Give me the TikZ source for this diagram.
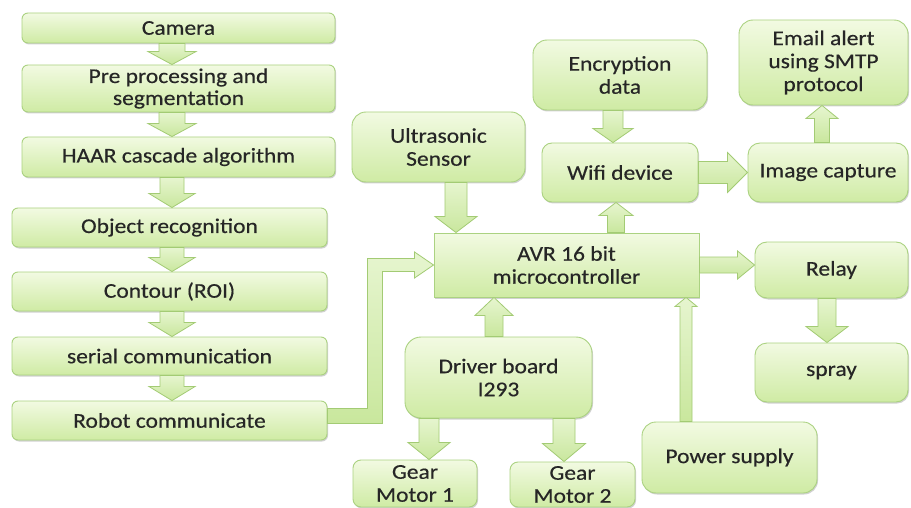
\documentclass[tikz,border=0pt]{standalone}
\usepackage{fontspec}
\setmainfont{Carlito}[FakeStretch=1.12, FakeBold=0.4]
\usetikzlibrary{calc,shadows}

\definecolor{boxtop}{HTML}{F2FAE2}
\definecolor{boxbot}{HTML}{CFEBA4}
\definecolor{boxline}{HTML}{ABD281}
\definecolor{arrtop}{HTML}{E6F5CF}
\definecolor{arrbot}{HTML}{C9E79D}
\definecolor{arrline}{HTML}{A3CB74}
\definecolor{txt}{HTML}{262626}

\tikzset{
  blk/.style={draw=boxline, line width=0.9pt, top color=boxtop, bottom color=boxbot,
    rounded corners=#1, text=txt, align=center, inner sep=2pt,
    font=\fontsize{21}{23}\selectfont,
    drop shadow={shadow xshift=1pt, shadow yshift=-1.5pt, opacity=.18, fill=black}},
  blk/.default=7pt,
  barrow/.style={draw=arrline, line width=0.8pt, top color=arrtop, bottom color=arrbot,
    line join=miter}
}

% block arrow: start, end, shaft width, head width, head length (pt)
\newcommand\blockarrow[5]{%
  \path[barrow] let \p1=(#1), \p2=(#2),
      \n1={atan2(\y2-\y1,\x2-\x1)}, \n2={veclen(\x2-\x1,\y2-\y1)} in
    {[shift={(\p1)}, rotate=\n1]
      (0pt,{-#3pt/2}) -- ({\n2-#5pt},{-#3pt/2}) -- ({\n2-#5pt},{-#4pt/2})
      -- (\n2,0pt) -- ({\n2-#5pt},{#4pt/2}) -- ({\n2-#5pt},{#3pt/2})
      -- (0pt,{#3pt/2}) -- cycle};
}

\begin{document}
\begin{tikzpicture}[x=1pt, y=-1pt]
\useasboundingbox[fill=white] (0,0) rectangle (911,508);

% image processing chain
\node[blk=6pt, minimum width=313pt, minimum height=30pt] (camera) at (178.5,28) {Camera};
\node[blk=6pt, minimum width=313pt, minimum height=47pt, font=\fontsize{21}{22}\selectfont] (pre) at (178.5,88.5) {Pre processing and\\segmentation};
\node[blk=6pt, minimum width=313pt, minimum height=40pt] (haar) at (178.5,157) {HAAR cascade algorithm};
\node[blk=6pt, minimum width=315pt, minimum height=39pt] (object) at (169.5,227.5) {Object recognition};
\node[blk=6pt, minimum width=315pt, minimum height=39pt] (contour) at (169.5,291.5) {Contour (ROI)};
\node[blk=6pt, minimum width=315pt, minimum height=38pt] (serial) at (169.5,356) {serial communication};
\node[blk=6pt, minimum width=315pt, minimum height=39pt] (robot) at (169.5,420.5) {Robot communicate};

% controller side
\node[blk=14pt, minimum width=173pt, minimum height=70pt] (ultra) at (438.5,147) {Ultrasonic\\Sensor};
\node[blk=14pt, minimum width=174pt, minimum height=70pt] (encrypt) at (620,75) {Encryption\\data};
\node[blk=14pt, minimum width=169pt, minimum height=85pt] (email) at (823.5,62.5) {Email alert\\using SMTP\\protocol};
\node[blk=10pt, minimum width=156pt, minimum height=59pt] (wifi) at (620,172.5) {Wifi device};
\node[blk=12pt, minimum width=160pt, minimum height=59pt] (image) at (828,172.5) {Image capture};
\node[blk=0pt, minimum width=265pt, minimum height=64pt] (avr) at (566.5,265) {AVR 16 bit\\microcontroller};
\node[blk=12pt, minimum width=153pt, minimum height=56pt] (relay) at (831.5,270) {Relay};
\node[blk=12pt, minimum width=153pt, minimum height=59pt] (spray) at (831.5,372.5) {spray};
\node[blk=16pt, minimum width=187pt, minimum height=81pt] (driver) at (498.5,377.5) {Driver board\\I293};
\node[blk=8pt, minimum width=124pt, minimum height=47pt] (gear1) at (415,483.5) {Gear\\Motor 1};
\node[blk=8pt, minimum width=125pt, minimum height=45pt] (gear2) at (572.5,484.5) {Gear\\Motor 2};
\node[blk=14pt, minimum width=175pt, minimum height=71pt] (power) at (729.5,457.5) {Power supply};

% arrows of the processing chain
\blockarrow{$(camera.south)+(-6.5,0)$}{$(pre.north)+(-6.5,0)$}{26}{48}{13}
\blockarrow{$(pre.south)+(-6.5,0)$}{$(haar.north)+(-6.5,0)$}{26}{48}{13}
\blockarrow{$(haar.south)+(-6.5,0)$}{$(object.north)+(2.5,0)$}{24}{46}{14}
\blockarrow{$(object.south)+(2.5,0)$}{$(contour.north)+(2.5,0)$}{24}{46}{14}
\blockarrow{$(contour.south)+(2.5,0)$}{$(serial.north)+(2.5,0)$}{24}{46}{14}
\blockarrow{$(serial.south)+(2.5,0)$}{$(robot.north)+(2.5,0)$}{24}{46}{14}

% bent arrow from the robot link into the controller
\path[barrow] ($(robot.east)+(0,-12)$) -| ($(avr.west)+(-66,-6.5)$)
  -- ($(avr.west)+(-19,-6.5)$) -- ($(avr.west)+(-19,-13)$) -- (avr.west)
  -- ($(avr.west)+(-19,13)$) -- ($(avr.west)+(-19,6.5)$) -- ($(avr.west)+(-51,6.5)$)
  |- ($(robot.east)+(0,3)$) -- cycle;

% controller connections
\coordinate (u1) at ($(ultra.south)+(17.5,0)$);
\coordinate (e1) at ($(encrypt.south)+(-7,0)$);
\coordinate (w1) at ($(wifi.south)+(-4,0)$);
\coordinate (i1) at ($(image.north)+(-6,0)$);
\coordinate (r1) at ($(relay.south)+(-4.5,0)$);
\coordinate (d1) at ($(driver.north)+(-4.5,0)$);
\coordinate (g1) at ($(gear1.north)+(14,0)$);
\coordinate (g2) at ($(gear2.north)+(-8.5,0)$);
\coordinate (p1) at ($(power.north)+(-43.5,0)$);

\blockarrow{u1}{avr.north -| u1}{22}{42}{16}
\blockarrow{e1}{wifi.north -| e1}{20}{40}{14}
\blockarrow{avr.north -| w1}{w1}{17}{34}{13}
\blockarrow{wifi.east}{image.west}{22}{40}{20}
\blockarrow{i1}{email.south -| i1}{15}{32}{13}
\blockarrow{avr.east}{relay.west |- avr.east}{16}{28}{17}
\blockarrow{r1}{spray.north -| r1}{18}{42}{16}
\blockarrow{d1}{avr.south -| d1}{18}{38}{18}
\blockarrow{driver.south -| g1}{g1}{20}{42}{17}
\blockarrow{driver.south -| g2}{g2}{22}{43}{18}
\blockarrow{p1}{avr.south -| p1}{12}{22}{9}
\end{tikzpicture}
\end{document}
